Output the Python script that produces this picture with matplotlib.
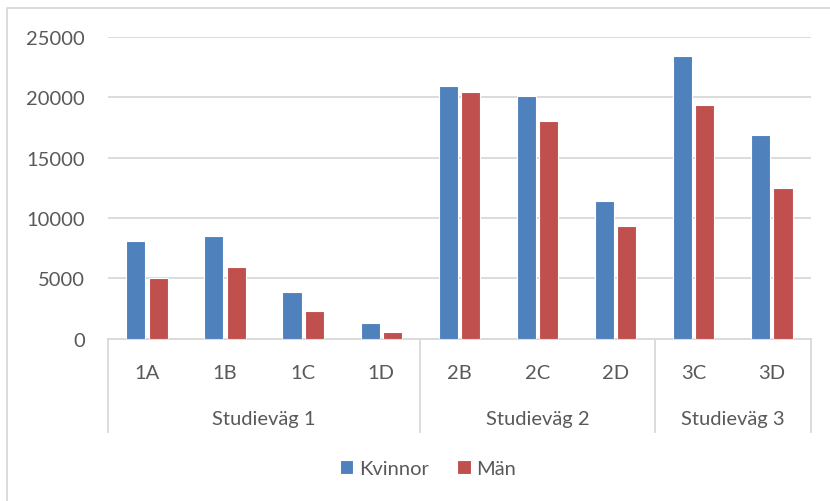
import matplotlib
matplotlib.use("Agg")
import matplotlib.pyplot as plt
from matplotlib.lines import Line2D
import numpy as np

categories = ["1A", "1B", "1C", "1D", "2B", "2C", "2D", "3C", "3D"]
groups = ["Studieväg 1", "Studieväg 2", "Studieväg 3"]
group_sizes = [4, 3, 2]
kvinnor = [8080, 8470, 3820, 1300, 20930, 20100, 11430, 23450, 16860]
man = [5010, 5950, 2270, 580, 20460, 18070, 9350, 19380, 12460]

blue = "#4F81BD"
red = "#C0504D"
text_col = "#595959"
grid_col = "#D9D9D9"
fs = 14.5

plt.rcParams["font.family"] = ["Lato", "DejaVu Sans"]

fig = plt.figure(figsize=(8.3, 5.02), dpi=100)
ax = fig.add_axes([0.130, 0.3237, 0.847, 0.6006])

x = np.arange(len(categories))
w = 0.245
off = 0.143
ax.bar(x - off, kvinnor, w, color=blue, edgecolor="white", linewidth=0.8, label="Kvinnor", zorder=3)
ax.bar(x + off, man, w, color=red, edgecolor="white", linewidth=0.8, label="Män", zorder=3)

ax.set_xlim(-0.5, len(categories) - 0.5)
ax.set_ylim(0, 25000)
ax.set_yticks(range(0, 25001, 5000))
ax.yaxis.grid(True, color=grid_col, linewidth=1.3)
ax.set_axisbelow(True)
ax.tick_params(axis="y", length=0, pad=16.5, labelsize=fs, labelcolor=text_col)
ax.set_xticks([])
for s in ["top", "right", "left"]:
    ax.spines[s].set_visible(False)
ax.spines["bottom"].set_color(grid_col)
ax.spines["bottom"].set_linewidth(1.3)

# two-level category axis
trans = ax.get_xaxis_transform()
for i, c in enumerate(categories):
    ax.text(i, -0.132, c, transform=trans, ha="center", va="baseline",
            fontsize=fs, color=text_col)
start = 0
edges = [-0.5]
for g, n in zip(groups, group_sizes):
    mid = start + (n - 1) / 2
    ax.text(mid, -0.284, g, transform=trans, ha="center", va="baseline",
            fontsize=fs, color=text_col)
    start += n
    edges.append(start - 0.5)
for e in edges:
    ax.plot([e, e], [0, -0.310], transform=trans, color=grid_col,
            linewidth=1.3, clip_on=False)

fig.legend(loc="center", bbox_to_anchor=(428 / 830, 0.0644), ncol=2, frameon=False,
           handlelength=0.68, handleheight=0.68, handletextpad=0.28, columnspacing=1.4,
           prop={"size": fs}, labelcolor=text_col)

# chart area border (top and left edges visible in the crop)
fig.add_artist(Line2D([7 / 830, 7 / 830, 1.0], [0.0, 1 - 9 / 502, 1 - 9 / 502],
                      transform=fig.transFigure, color=grid_col, linewidth=1.3))

fig.savefig("out.png", dpi=100)
